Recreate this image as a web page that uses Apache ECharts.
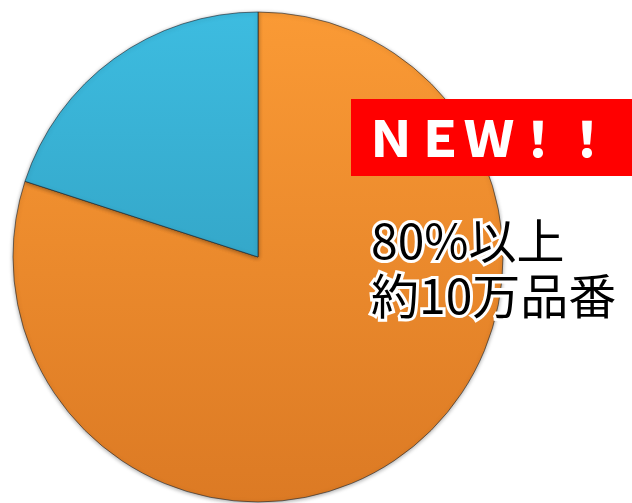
<!DOCTYPE html>
<html>
<head>
<meta charset="utf-8">
<script src="https://cdn.jsdelivr.net/npm/echarts@6/dist/echarts.min.js"></script>
<style>
  html, body { margin: 0; padding: 0; background: #fff; }
  #chart { width: 632px; height: 503px; }
</style>
</head>
<body>
<div id="chart"></div>
<script>
const names = ['新規', '既存']
const values = [80, 20]
const topColors = ['#FA9A35', '#3DBCE0']
const bottomColors = ['#DC7A24', '#2C93B3']
const badgeText = 'ＮＥＷ！！'
const noteLines = ['80%以上', '約10万品番']

const chart = echarts.init(document.getElementById('chart'))

const grad = (i) => new echarts.graphic.LinearGradient(0, 12, 0, 502, [
  { offset: 0, color: topColors[i] },
  { offset: 1, color: bottomColors[i] }
], true)

const noteStyle = {
  fill: '#000',
  font: '48px "Noto Sans CJK JP"',
  align: 'left',
  verticalAlign: 'middle',
  stroke: '#fff',
  lineWidth: 6,
  shadowColor: '#fff',
  shadowBlur: 8
}

chart.setOption({
  animation: false,
  series: [
    {
      type: 'pie',
      z: 1,
      center: [258, 257],
      radius: [0, 245],
      startAngle: 90,
      clockwise: true,
      label: { show: false },
      labelLine: { show: false },
      itemStyle: {
        borderColor: 'rgba(25,35,45,0.6)',
        borderWidth: 1,
        shadowColor: 'rgba(0,0,0,0.35)',
        shadowBlur: 4,
        shadowOffsetY: 1
      },
      data: names.map((n, i) => ({
        name: n,
        value: values[i],
        itemStyle: { color: grad(i) }
      }))
    }
  ],
  graphic: [
    {
      type: 'group',
      z: 100,
      children: [
        {
          type: 'rect',
          z: 100,
          shape: { x: 351, y: 99, width: 290, height: 77 },
          style: { fill: '#FF0000' }
        },
        {
          type: 'text',
          z: 101,
          x: 489,
          y: 138,
          style: {
            text: badgeText,
            fill: '#fff',
            font: '900 49px "Noto Sans CJK JP"',
            align: 'center',
            verticalAlign: 'middle'
          }
        },
        {
          type: 'text',
          z: 101,
          x: 371,
          y: 241,
          style: Object.assign({ text: noteLines[0] }, noteStyle)
        },
        {
          type: 'text',
          z: 101,
          x: 371,
          y: 296,
          style: Object.assign({ text: noteLines[1] }, noteStyle)
        }
      ]
    }
  ]
})
</script>
</body>
</html>
